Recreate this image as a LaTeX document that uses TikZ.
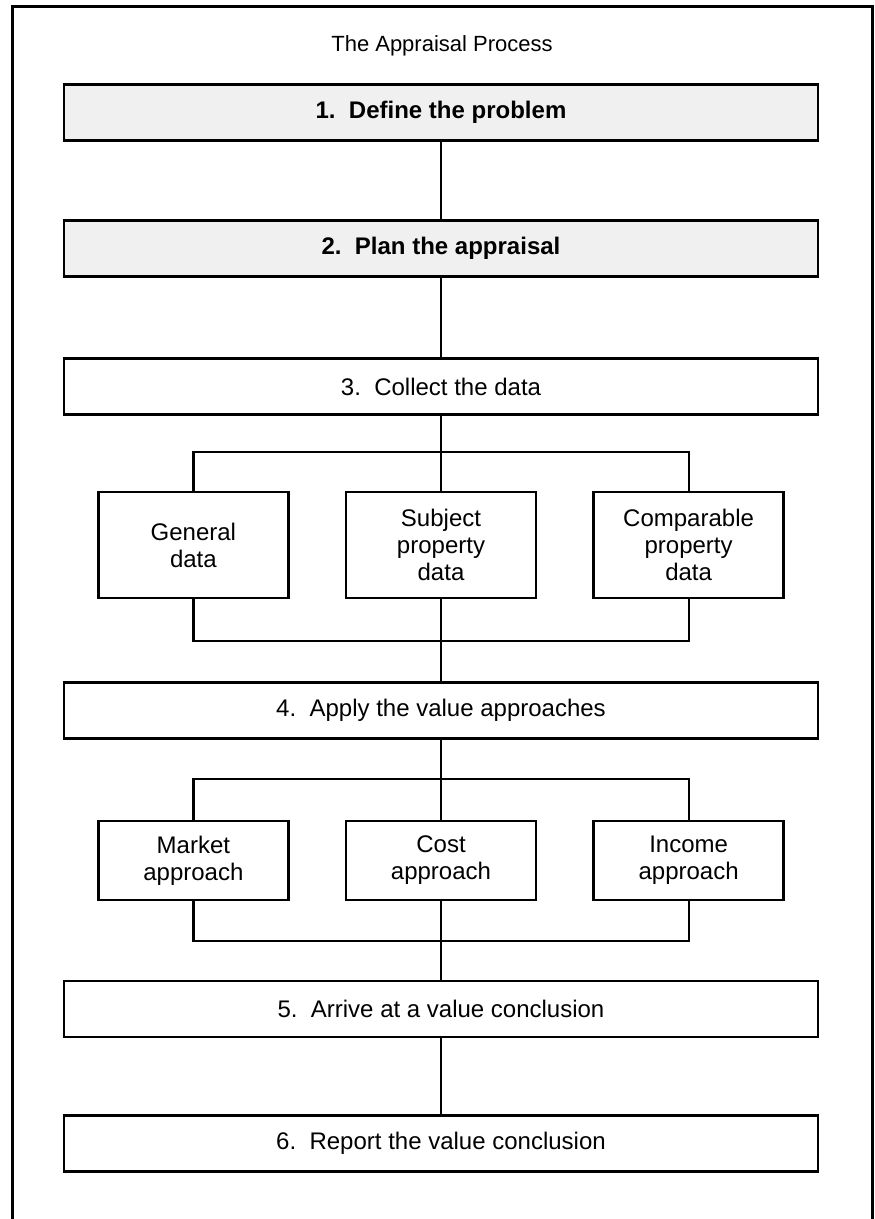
\documentclass[tikz,border=0pt]{standalone}
\usepackage{fontspec}
\setmainfont{Liberation Sans}
\usetikzlibrary{positioning}

\begin{document}
\begin{tikzpicture}[x=1pt, y=-1pt,
    stage/.style={draw, line width=2.6pt, minimum width=754pt, minimum height=56pt, inner sep=0pt,
        font=\fontsize{24}{27}\selectfont},
    shaded/.style={stage, fill=black!6, font=\fontsize{24}{27}\selectfont\bfseries},
    branch/.style={draw, line width=2.6pt, minimum width=190pt, inner sep=0pt, align=center,
        font=\fontsize{24}{27}\selectfont},
    link/.style={line width=2.2pt}]
    \useasboundingbox (0,0) rectangle (875,1219);

    % Outer frame, open at the bottom
    \draw[line width=3pt] (12,1225) -- (12,6) -- (872,6) -- (872,1225);
    \node[font=\fontsize{22}{26}\selectfont] (title) at (442,46) {The Appraisal Process};

    % Steps 1 to 3
    \node[shaded] (s1) at (441,112.5) {1.\ \ Define the problem};
    \node[shaded] (s2) at (441,248.5) {2.\ \ Plan the appraisal};
    \node[stage] (s3) at (441,386.5) {3.\ \ Collect the data};
    \draw[link] (s1) -- (s2);
    \draw[link] (s2) -- (s3);

    % Data to collect
    \node[branch, minimum height=106pt] (subj) at (441,545) {Subject\\property\\data};
    \node[branch, minimum height=106pt, left=55pt of subj] (gen) {General\\data};
    \node[branch, minimum height=106pt, right=55pt of subj] (comp) {Comparable\\property\\data};
    \coordinate (d1) at (441,452);
    \coordinate (d2) at (441,641);
    \draw[link] (s3) -- (d1) -- (subj);
    \draw[link] (gen) |- (d1) -| (comp);
    \draw[link] (gen) |- (d2) -| (comp);

    % Step 4
    \node[stage] (s4) at (441,710.5) {4.\ \ Apply the value approaches};
    \draw[link] (subj) -- (d2) -- (s4);

    % The three approaches
    \node[branch, minimum height=79pt] (cost) at (441,860.5) {Cost\\approach};
    \node[branch, minimum height=79pt, left=55pt of cost] (mkt) {Market\\approach};
    \node[branch, minimum height=79pt, right=55pt of cost] (inc) {Income\\approach};
    \coordinate (a1) at (441,779);
    \coordinate (a2) at (441,941);
    \draw[link] (s4) -- (a1) -- (cost);
    \draw[link] (mkt) |- (a1) -| (inc);
    \draw[link] (mkt) |- (a2) -| (inc);

    % Steps 5 and 6
    \node[stage] (s5) at (441,1009) {5.\ \ Arrive at a value conclusion};
    \node[stage] (s6) at (441,1143.5) {6.\ \ Report the value conclusion};
    \draw[link] (cost) -- (a2) -- (s5);
    \draw[link] (s5) -- (s6);
\end{tikzpicture}
\end{document}
